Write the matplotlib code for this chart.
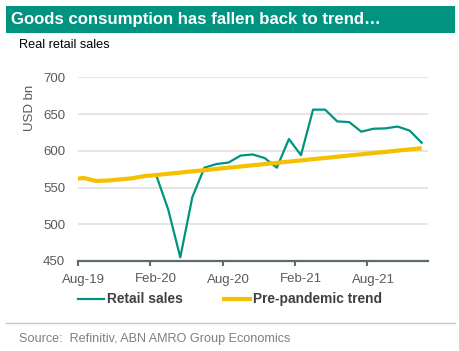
import matplotlib
matplotlib.use("Agg")
import matplotlib.pyplot as plt
from matplotlib.patches import Rectangle
from matplotlib.lines import Line2D

plt.rcParams['font.family'] = ['Liberation Sans', 'DejaVu Sans']

# Monthly data, Jul-19 .. Dec-21 (first month partly outside the plotted range)
months = ['Jul-19', 'Aug-19', 'Sep-19', 'Oct-19', 'Nov-19', 'Dec-19',
          'Jan-20', 'Feb-20', 'Mar-20', 'Apr-20', 'May-20', 'Jun-20',
          'Jul-20', 'Aug-20', 'Sep-20', 'Oct-20', 'Nov-20', 'Dec-20',
          'Jan-21', 'Feb-21', 'Mar-21', 'Apr-21', 'May-21', 'Jun-21',
          'Jul-21', 'Aug-21', 'Sep-21', 'Oct-21', 'Nov-21', 'Dec-21']
retail_sales = [561, 563, 559, 559.5, 561, 562.5,
                565.5, 567, 520, 455, 537, 577,
                582, 584, 593.5, 595, 590, 577,
                616, 594, 656, 656, 640, 639,
                626, 630, 630.5, 633, 627.5, 611]
trend = [561, 563, 559, 559.5, 561, 562.5,
         565.5, 567, 568.7, 570.3, 572, 573.6,
         575.3, 577, 578.6, 580.3, 581.9, 583.6,
         585.3, 586.9, 588.6, 590.2, 591.9, 593.6,
         595.2, 596.9, 598.5, 600.2, 601.9, 603.5]
tick_labels = ['Aug-19', 'Feb-20', 'Aug-20', 'Feb-21', 'Aug-21']
y_ticks = [450, 500, 550, 600, 650, 700]

TEAL = '#00937f'
YELLOW = '#f5c000'
GRAY_TXT = '#595959'
AXIS = '#5c6b6e'

W, H = 460, 351
fig = plt.figure(figsize=(W / 100, H / 100), dpi=100)

def fx(px):
    return px / W

def fy(py):
    return 1 - py / H

# Title band
fig.add_artist(Rectangle((fx(6), fy(33)), fx(449), (27) / H, transform=fig.transFigure,
                         facecolor='#00937f', edgecolor='none'))
fig.text(fx(11), fy(19.5), 'Goods consumption has fallen back to trend…', color='white',
         fontsize=12.1, fontweight='bold', va='center', ha='left')
fig.text(fx(19.5), fy(45.5), 'Real retail sales', color='black', fontsize=9.2,
         va='center', ha='left')

ax = fig.add_axes([fx(77.7), fy(261), fx(427.7 - 77.7), (261 - 77.3) / H])
x = [i - 1 for i in range(len(months))]
ax.plot(x, retail_sales, color=TEAL, lw=1.6, zorder=3)
ax.plot(x, trend, color=YELLOW, lw=3.0, zorder=4, solid_capstyle='butt')

ax.set_xlim(-0.5, 28.5)
ax.set_ylim(450, 700)
ax.set_yticks(y_ticks)
ax.set_yticklabels([str(v) for v in y_ticks])
ax.tick_params(axis='y', length=0, pad=9, labelsize=9.5, labelcolor=GRAY_TXT)
ax.grid(axis='y', color='#dedede', lw=1.1)
ax.set_axisbelow(True)

ax.set_xticks([-0.5, 5.5, 11.5, 17.5, 23.5])
ax.set_xticklabels([])
ax.set_xticks([0, 6, 12, 18, 24], minor=True)
ax.set_xticklabels(tick_labels, minor=True)
ax.tick_params(axis='x', which='major', direction='out', length=3.5, width=1.5, color=AXIS)
ax.tick_params(axis='x', which='minor', length=0, pad=9, labelsize=9.5, labelcolor=GRAY_TXT)

for s in ['top', 'right', 'left']:
    ax.spines[s].set_visible(False)
ax.spines['bottom'].set_color(AXIS)
ax.spines['bottom'].set_linewidth(1.6)

fig.text(fx(30), fy(108), 'USD bn', rotation=90, color=GRAY_TXT, fontsize=9.5,
         va='center', ha='center')

# Legend
ly = fy(299)
fig.add_artist(Line2D([fx(78), fx(104)], [ly, ly], color=TEAL, lw=1.6, transform=fig.transFigure))
fig.text(fx(107), ly, 'Retail sales', color='#404040', fontsize=9.9, fontweight='bold',
         va='center', ha='left')
fig.add_artist(Line2D([fx(224), fx(250)], [ly, ly], color=YELLOW, lw=3.0, transform=fig.transFigure))
fig.text(fx(253), ly, 'Pre-pandemic trend', color='#404040', fontsize=9.9, fontweight='bold',
         va='center', ha='left')

# Separator and source
fig.add_artist(Line2D([fx(6), fx(455)], [fy(323.3), fy(323.3)], color='#c8c8c8', lw=1.0,
                      transform=fig.transFigure))
fig.text(fx(19.5), fy(339), 'Source:  Refinitiv, ABN AMRO Group Economics', color='#7f7f7f',
         fontsize=9.1, va='center', ha='left')

fig.savefig('out.png', dpi=100)
